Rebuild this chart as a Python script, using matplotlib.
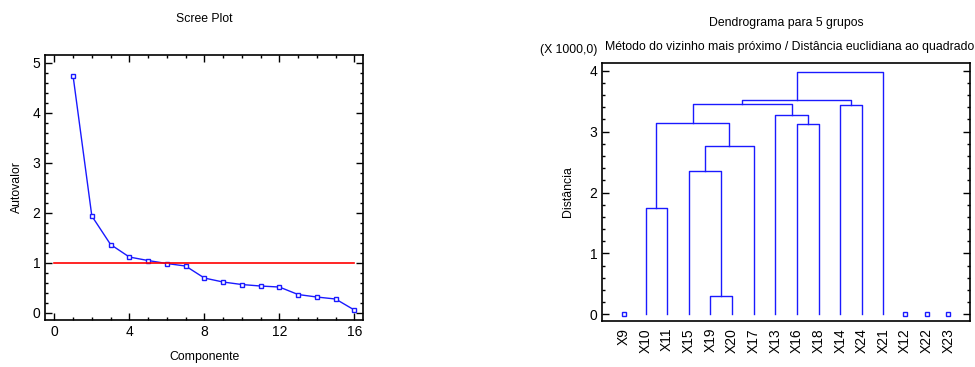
import matplotlib
matplotlib.use("Agg")
import matplotlib.pyplot as plt
from matplotlib.ticker import MultipleLocator

plt.rcParams['font.family'] = ['Liberation Sans', 'DejaVu Sans']

# ---- Scree plot data ----
componentes = list(range(1, 17))
autovalores = [4.73, 1.93, 1.36, 1.11, 1.04, 0.98, 0.93, 0.69, 0.61, 0.56, 0.53, 0.51, 0.36, 0.31, 0.27, 0.05]
limiar = 1.0

# ---- Dendrogram data (distances in thousands) ----
folhas = ["X9", "X10", "X11", "X15", "X19", "X20", "X17", "X13", "X16", "X18",
          "X14", "X24", "X21", "X12", "X22", "X23"]
isoladas = ["X9", "X12", "X22", "X23"]
# merges: (left, right, height, new label)
fusoes = [
    ("X10", "X11", 1.74, "A"),
    ("X19", "X20", 0.30, "B"),
    ("X15", "B", 2.35, "C"),
    ("C", "X17", 2.76, "D"),
    ("A", "D", 3.14, "E"),
    ("X16", "X18", 3.12, "F"),
    ("X13", "F", 3.28, "G"),
    ("E", "G", 3.46, "H"),
    ("X14", "X24", 3.44, "I"),
    ("H", "I", 3.52, "J"),
    ("J", "X21", 3.98, "K"),
]

fig = plt.figure(figsize=(9.75, 3.67), dpi=100)

blue = '#1a1aff'
fs_tick = 10
fs_title = 8.8
fs_label = 8.8

# ---------- Scree ----------
ax1 = fig.add_axes([0.0465, 0.128, 0.3258, 0.722])
ax1.plot(componentes, autovalores, color=blue, lw=1.0, marker='s', ms=3.2,
         mfc='white', mec=blue, mew=1.0)
ax1.plot([0, 16], [limiar, limiar], color='red', lw=1.2)
ax1.set_xlim(-0.48, 16.46)
ax1.set_ylim(-0.15, 5.15)
ax1.xaxis.set_major_locator(MultipleLocator(4))
ax1.xaxis.set_minor_locator(MultipleLocator(1))
ax1.yaxis.set_major_locator(MultipleLocator(1))
ax1.yaxis.set_minor_locator(MultipleLocator(0.2))
ax1.tick_params(which='both', direction='in', top=True, right=True, labelsize=fs_tick, width=1.0)
ax1.tick_params(which='major', length=5)
ax1.tick_params(which='minor', length=2.5)
ax1.set_title("Scree Plot", fontsize=fs_title, pad=24)
ax1.set_xlabel("Componente", fontsize=fs_label, labelpad=9)
ax1.set_ylabel("Autovalor", fontsize=fs_label, labelpad=7)
for s in ax1.spines.values():
    s.set_linewidth(1.2)

# ---------- Dendrogram ----------
ax2 = fig.add_axes([0.6177, 0.1253, 0.3772, 0.703])
pos = {n: i for i, n in enumerate(folhas)}
alt = {n: 0.0 for n in folhas}
for a, b, h, lab in fusoes:
    xa, xb = pos[a], pos[b]
    ax2.plot([xa, xa, xb, xb], [alt[a], h, h, alt[b]], color=blue, lw=1.0)
    pos[lab] = (xa + xb) / 2
    alt[lab] = h
for n in isoladas:
    ax2.plot([pos[n]], [0], marker='s', ms=3.0, mfc='white', mec=blue, mew=1.0, ls='none')
ax2.set_xlim(-1.0, 16.0)
ax2.set_ylim(-0.11, 4.126)
ax2.set_xticks(range(len(folhas)))
ax2.set_xticklabels(folhas, rotation=90, fontsize=fs_tick)
ax2.tick_params(axis='x', length=0, pad=5)
ax2.yaxis.set_major_locator(MultipleLocator(1))
ax2.yaxis.set_minor_locator(MultipleLocator(0.2))
ax2.tick_params(axis='y', which='both', direction='in', right=True, labelsize=fs_tick, width=1.0)
ax2.tick_params(axis='y', which='major', length=5)
ax2.tick_params(axis='y', which='minor', length=2.5)
ax2.set_ylabel("Distância", fontsize=fs_label, labelpad=11)
for s in ax2.spines.values():
    s.set_linewidth(1.2)
fig.text(0.8065, 0.937, "Dendrograma para 5 grupos", ha='center', va='center', fontsize=fs_title)
fig.text(0.9995, 0.873, "Método do vizinho mais próximo / Distância euclidiana ao quadrado",
         ha='right', va='center', fontsize=fs_title)
fig.text(0.5535, 0.865, "(X 1000,0)", ha='left', va='center', fontsize=fs_title)

fig.savefig("out.png", dpi=100)
